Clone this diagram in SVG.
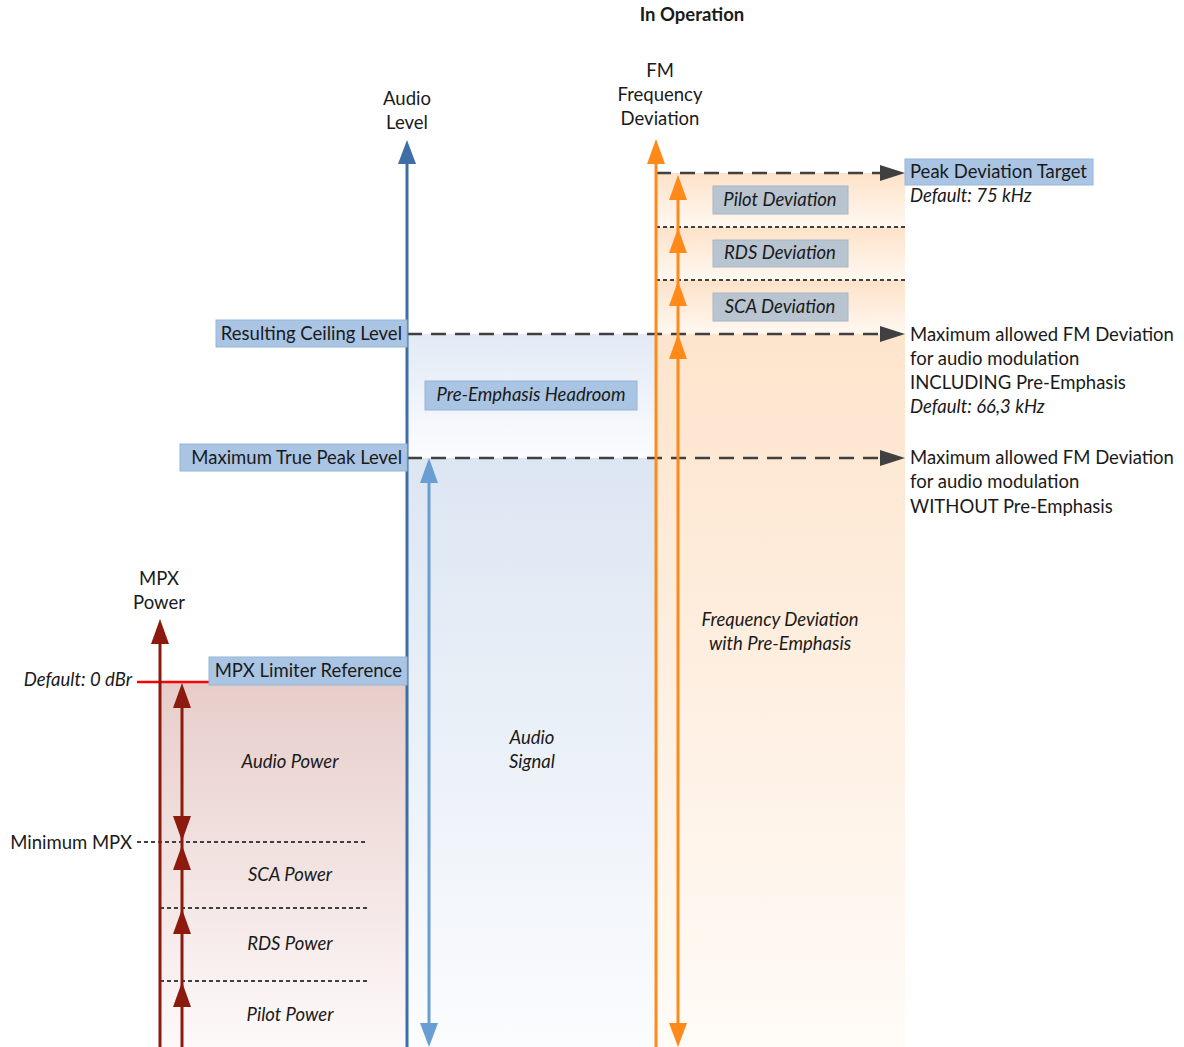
<svg xmlns="http://www.w3.org/2000/svg" width="1184" height="1047" viewBox="0 0 1184 1047">
<style>
text{font-family:Lato,"Open Sans","Liberation Sans",sans-serif;font-size:18.5px;fill:#1a1a1a}
.it{font-style:italic}
.b{font-weight:bold}
.m{text-anchor:middle}
.e{text-anchor:end}
.bb{fill:#aac5e4;stroke:#97b5d8;stroke-width:1}
.gb{fill:#b8c4d0;stroke:#a9b6c4;stroke-width:1}
.dash{stroke:#404040;stroke-width:2.5;stroke-dasharray:15 9;fill:none}
.dot{stroke:#404040;stroke-width:2;stroke-dasharray:4 3;fill:none}
.ah{fill:#404040}
.blue{stroke:#3d6fa6;stroke-width:3}
.lblue{stroke:#6a9ed2;stroke-width:3}
.or{stroke:#ff8a1a;stroke-width:3}
.red{stroke:#8c1a0e;stroke-width:3}
</style>
<defs>
<linearGradient id="gBlue1" x1="0" y1="0" x2="0" y2="1"><stop offset="0" stop-color="#e2eaf5"/><stop offset="1" stop-color="#fbfcfe"/></linearGradient>
<linearGradient id="gBlue2" x1="0" y1="0" x2="0" y2="1"><stop offset="0" stop-color="#dce6f2"/><stop offset="1" stop-color="#fbfcfe"/></linearGradient>
<linearGradient id="gOr1" x1="0" y1="0" x2="0" y2="1"><stop offset="0" stop-color="#fde2c8"/><stop offset="1" stop-color="#fff8f1"/></linearGradient>
<linearGradient id="gOr2" x1="0" y1="0" x2="0" y2="1"><stop offset="0" stop-color="#fde4cc"/><stop offset="1" stop-color="#fffbf7"/></linearGradient>
<linearGradient id="gRed" x1="0" y1="0" x2="0" y2="1"><stop offset="0" stop-color="#e7cdca"/><stop offset="1" stop-color="#fdf9f9"/></linearGradient>
</defs>
<rect width="1184" height="1047" fill="#ffffff"/>

<g id="regions">
<rect x="408" y="334" width="248" height="124" fill="url(#gBlue1)"/>
<rect x="408" y="458" width="248" height="589" fill="url(#gBlue2)"/>
<rect x="657" y="173" width="248" height="54" fill="url(#gOr1)"/>
<rect x="657" y="227" width="248" height="53" fill="url(#gOr1)"/>
<rect x="657" y="280" width="248" height="54" fill="url(#gOr1)"/>
<rect x="657" y="334" width="248" height="713" fill="url(#gOr2)"/>
<rect x="160" y="682" width="247" height="365" fill="url(#gRed)"/>
</g>

<g id="title"><text class="b m" x="692" y="21">In Operation</text></g>

<g id="axis-labels">
<text class="m" x="660" y="77">FM</text>
<text class="m" x="660" y="101">Frequency</text>
<text class="m" x="660" y="125">Deviation</text>
<text class="m" x="407" y="105">Audio</text>
<text class="m" x="407" y="129">Level</text>
<text class="m" x="159" y="585">MPX</text>
<text class="m" x="159" y="609">Power</text>
</g>

<g id="connectors">
<line class="dash" x1="656" y1="173" x2="882" y2="173"/>
<polygon class="ah" points="905,173 880,165 880,181"/>
<line class="dash" x1="407" y1="334" x2="882" y2="334"/>
<polygon class="ah" points="905,334 880,326 880,342"/>
<line class="dash" x1="407" y1="458" x2="882" y2="458"/>
<polygon class="ah" points="905,458 880,450 880,466"/>
<line class="dot" x1="656" y1="227" x2="905" y2="227"/>
<line class="dot" x1="656" y1="280" x2="905" y2="280"/>
<line class="dot" x1="137" y1="842" x2="367" y2="842"/>
<line class="dot" x1="160" y1="908" x2="367" y2="908"/>
<line class="dot" x1="160" y1="981" x2="367" y2="981"/>
<line x1="137" y1="682" x2="407" y2="682" stroke="#ff0000" stroke-width="2.5"/>
<line class="blue" x1="407" y1="160" x2="407" y2="1047"/>
<polygon fill="#3d6fa6" points="407,140 398,164 416,164"/>
<line class="lblue" x1="429" y1="478" x2="429" y2="1030"/>
<polygon fill="#6a9ed2" points="429,458 420,483 438,483"/>
<polygon fill="#6a9ed2" points="429,1047 420,1023 438,1023"/>
<line class="or" x1="656" y1="160" x2="656" y2="1047"/>
<polygon fill="#ff8a1a" points="656,139 647,164 665,164"/>
<line class="or" x1="678" y1="190" x2="678" y2="1030"/>
<polygon fill="#ff8a1a" points="678,175 669,200 687,200"/>
<polygon fill="#ff8a1a" points="678,228 669,253 687,253"/>
<polygon fill="#ff8a1a" points="678,281 669,306 687,306"/>
<polygon fill="#ff8a1a" points="678,334 669,359 687,359"/>
<polygon fill="#ff8a1a" points="678,1047 669,1023 687,1023"/>
<line class="red" x1="160" y1="638" x2="160" y2="1047"/>
<polygon fill="#8c1a0e" points="160,619 151,644 169,644"/>
<line class="red" x1="182" y1="700" x2="182" y2="1047"/>
<polygon fill="#8c1a0e" points="182,683 173,708 191,708"/>
<polygon fill="#8c1a0e" points="182,841 173,816 191,816"/>
<polygon fill="#8c1a0e" points="182,845 173,870 191,870"/>
<polygon fill="#8c1a0e" points="182,909 173,934 191,934"/>
<polygon fill="#8c1a0e" points="182,982 173,1007 191,1007"/>
</g>

<g id="node-peak-deviation-target">
<rect class="bb" x="905" y="159" width="188" height="26"/>
<text x="910" y="178">Peak Deviation Target</text>
<text class="it" x="910" y="202">Default: 75 kHz</text>
</g>
<g id="node-pilot-deviation">
<rect class="gb" x="713" y="186" width="135" height="28"/>
<text class="it m" x="780" y="206">Pilot Deviation</text>
</g>
<g id="node-rds-deviation">
<rect class="gb" x="713" y="240" width="135" height="27"/>
<text class="it m" x="780" y="259">RDS Deviation</text>
</g>
<g id="node-sca-deviation">
<rect class="gb" x="713" y="293" width="135" height="28"/>
<text class="it m" x="780" y="313">SCA Deviation</text>
</g>
<g id="node-resulting-ceiling">
<rect class="bb" x="216" y="320" width="191" height="27"/>
<text class="e" x="402" y="340">Resulting Ceiling Level</text>
</g>
<g id="node-pre-emphasis-headroom">
<rect class="bb" x="425" y="381" width="212" height="29"/>
<text class="it m" x="531" y="401">Pre-Emphasis Headroom</text>
</g>
<g id="node-max-true-peak">
<rect class="bb" x="180" y="444" width="227" height="27"/>
<text class="e" x="402" y="464">Maximum True Peak Level</text>
</g>
<g id="node-including">
<text x="910" y="341">Maximum allowed FM Deviation</text>
<text x="910" y="365">for audio modulation</text>
<text x="910" y="389">INCLUDING Pre-Emphasis</text>
<text class="it" x="910" y="413">Default: 66,3 kHz</text>
</g>
<g id="node-without">
<text x="910" y="464">Maximum allowed FM Deviation</text>
<text x="910" y="488">for audio modulation</text>
<text x="910" y="513">WITHOUT Pre-Emphasis</text>
</g>
<g id="node-freq-deviation">
<text class="it m" x="780" y="626">Frequency Deviation</text>
<text class="it m" x="780" y="650">with Pre-Emphasis</text>
</g>
<g id="node-mpx-limiter">
<rect class="bb" x="209" y="657" width="198" height="28"/>
<text class="e" x="402" y="677">MPX Limiter Reference</text>
</g>
<g id="node-default-0dbr"><text class="it e" x="132" y="686">Default: 0 dBr</text></g>
<g id="node-audio-signal">
<text class="it m" x="532" y="744">Audio</text>
<text class="it m" x="532" y="768">Signal</text>
</g>
<g id="node-audio-power"><text class="it m" x="290" y="768">Audio Power</text></g>
<g id="node-minimum-mpx"><text class="e" x="132" y="849">Minimum MPX</text></g>
<g id="node-sca-power"><text class="it m" x="290" y="881">SCA Power</text></g>
<g id="node-rds-power"><text class="it m" x="290" y="950">RDS Power</text></g>
<g id="node-pilot-power"><text class="it m" x="290" y="1021">Pilot Power</text></g>
</svg>
